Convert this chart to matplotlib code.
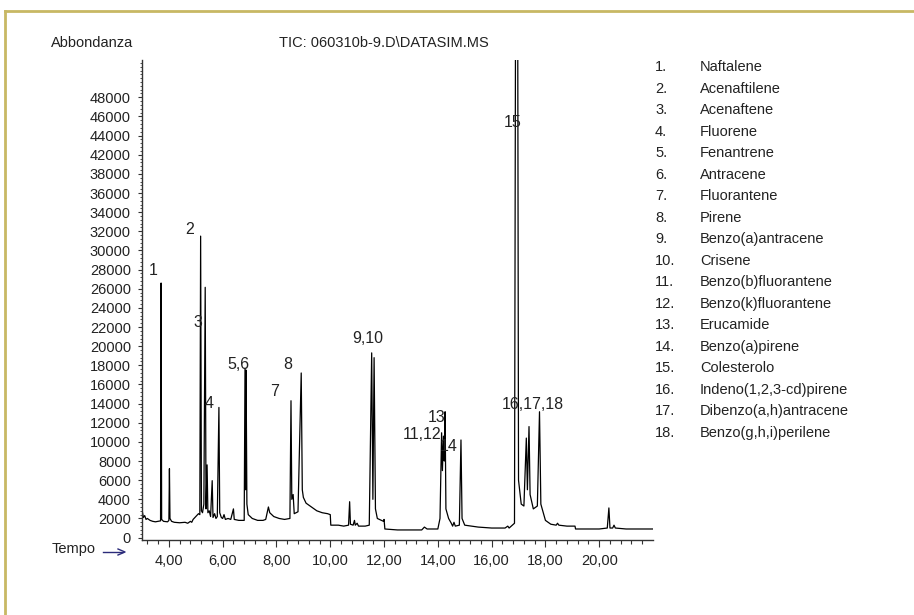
import numpy as np
import matplotlib
matplotlib.use("Agg")
import matplotlib.pyplot as plt
from matplotlib.lines import Line2D
from matplotlib.ticker import MultipleLocator, FixedLocator

plt.rcParams['font.family'] = ['Liberation Sans', 'DejaVu Sans']

# chromatogram trace, vertices (time in min, abundance)
tempo = [3.02, 3.05, 3.10, 3.15, 3.20, 3.30, 3.40, 3.50, 3.60, 3.69, 3.71, 3.73, 3.80, 3.95,
         4.00, 4.02, 4.04, 4.10, 4.20, 4.40, 4.60, 4.70, 4.80, 4.85, 4.90, 5.00, 5.10, 5.15,
         5.18, 5.21, 5.25, 5.30, 5.35, 5.38, 5.42, 5.45, 5.50, 5.55, 5.61, 5.64, 5.70, 5.75,
         5.80, 5.86, 5.89, 5.95, 6.00, 6.05, 6.10, 6.20, 6.30, 6.40, 6.43, 6.60, 6.80, 6.83,
         6.855, 6.87, 6.90, 6.95, 7.10, 7.30, 7.50, 7.60, 7.70, 7.75, 7.90, 8.10, 8.30, 8.50,
         8.54, 8.57, 8.62, 8.66, 8.80, 8.92, 8.96, 9.00, 9.10, 9.30, 9.50, 9.70, 9.90, 10.00,
         10.02, 10.30, 10.50, 10.68, 10.72, 10.75, 10.85, 10.90, 10.93, 11.00, 11.05, 11.30,
         11.45, 11.54, 11.585, 11.63, 11.68, 11.75, 11.90, 11.98, 12.00, 12.03, 12.50, 13.00,
         13.40, 13.50, 13.60, 14.00, 14.08, 14.14, 14.17, 14.21, 14.24, 14.27, 14.30, 14.40,
         14.50, 14.55, 14.60, 14.65, 14.80, 14.86, 14.90, 15.00, 15.50, 16.00, 16.50, 16.60,
         16.65, 16.85, 16.90, 16.96, 17.00, 17.10, 17.20, 17.29, 17.33, 17.39, 17.43, 17.55,
         17.70, 17.78, 17.83, 18.00, 18.20, 18.40, 18.45, 18.50, 18.80, 19.10, 19.12, 19.50,
         20.00, 20.30, 20.36, 20.40, 20.50, 20.55, 20.60, 21.00, 21.50, 22.00]
abbondanza = [2600, 2100, 2300, 1900, 2000, 1800, 1700, 1650, 1700, 1750, 26600, 1900, 1700, 1650,
              1800, 7200, 2000, 1700, 1600, 1550, 1600, 1500, 1700, 1600, 1900, 2200, 2500, 2400,
              31500, 2800, 2600, 3500, 26150, 3000, 7600, 2600, 2800, 2200, 5950, 2100, 2500, 2000,
              2200, 13600, 2600, 2100, 2000, 2400, 1900, 2000, 1900, 3000, 1900, 1800, 1800, 17700,
              5000, 17500, 3500, 2400, 2000, 1800, 1800, 1900, 3200, 2600, 2200, 2000, 1900, 2000,
              14300, 4000, 4500, 2500, 2700, 17200, 5000, 4200, 3600, 3200, 2800, 2600, 2500, 2400,
              1300, 1300, 1200, 1300, 3750, 1400, 1300, 1800, 1300, 1500, 1200, 1200,
              1300, 19300, 4000, 18800, 3000, 2000, 1800, 1700, 1900, 900, 800, 800,
              800, 1100, 900, 900, 2000, 10950, 7000, 10600, 8000, 13150, 3000, 2000,
              1500, 1200, 1600, 1200, 1300, 10200, 2000, 1300, 1100, 1000, 1000, 1200,
              1000, 1500, 70000, 70000, 6000, 3500, 3300, 10400, 5000, 11600, 4500, 3000,
              3300, 13150, 3500, 1800, 1400, 1300, 1500, 1300, 1200, 1200, 900, 900,
              900, 1000, 3100, 1000, 1000, 1300, 1000, 900, 900, 900]

# peak labels and where they sit
peak_labels = ["1", "2", "3", "4", "5,6", "7", "8", "9,10", "11,12", "13", "14", "15", "16,17,18"]
label_t = [3.40, 4.78, 5.08, 5.49, 6.60, 7.94, 8.42, 11.40, 13.41, 13.96, 14.41, 16.79, 17.53]
label_y = [27870, 32240, 22430, 13980, 18050, 15230, 18050, 20760, 10750, 12520, 9500, 43400, 13870]

# y tick labels as printed (40000 is missing on the original)
ytick_labels = ["0", "2000", "4000", "6000", "8000", "10000", "12000", "14000", "16000",
                "18000", "20000", "22000", "24000", "26000", "28000", "30000", "32000",
                "34000", "36000", "38000", "42000", "44000", "46000", "48000"]
xtick_values = [4, 6, 8, 10, 12, 14, 16, 18, 20]

compounds = ["Naftalene", "Acenaftilene", "Acenaftene", "Fluorene", "Fenantrene", "Antracene",
             "Fluorantene", "Pirene", "Benzo(a)antracene", "Crisene", "Benzo(b)fluorantene",
             "Benzo(k)fluorantene", "Erucamide", "Benzo(a)pirene", "Colesterolo",
             "Indeno(1,2,3-cd)pirene", "Dibenzo(a,h)antracene", "Benzo(g,h,i)perilene"]

W, H = 914, 615
fig = plt.figure(figsize=(W / 100, H / 100), dpi=100)
ax = fig.add_axes([142 / W, 1 - 540 / H, (653 - 142) / W, (540 - 60) / H])

ax.plot(tempo, abbondanza, color="black", lw=0.9, clip_on=True)
ax.set_xlim(3.0, 22.0)
ax.set_ylim(-250, 49900)

for s in ["top", "right"]:
    ax.spines[s].set_visible(False)
for s in ["left", "bottom"]:
    ax.spines[s].set_color("#333333")
    ax.spines[s].set_linewidth(1.0)

txt = "#222222"
fs = 10.5
ax.set_yticks(np.arange(len(ytick_labels)) * 2000)
ax.set_yticklabels(ytick_labels, fontsize=fs, color=txt)
ax.yaxis.set_minor_locator(MultipleLocator(400))
ax.tick_params(axis="y", which="major", length=3, width=0.8, pad=5, colors="#333333")
ax.tick_params(axis="y", which="minor", length=1.5, width=0.6, colors="#333333")

ax.set_xticks(xtick_values)
ax.set_xticklabels(["%d,00" % v for v in xtick_values], fontsize=fs, color=txt)
ax.xaxis.set_minor_locator(FixedLocator(np.arange(3.2, 22.0, 0.4)))
ax.tick_params(axis="x", which="major", length=5, width=0.8, pad=5, colors="#333333")
ax.tick_params(axis="x", which="minor", length=3, width=0.8, colors="#333333")
for lab in ax.get_xticklabels() + ax.get_yticklabels():
    lab.set_color(txt)

for lab, t, y in zip(peak_labels, label_t, label_y):
    ax.text(t, y, lab, fontsize=fs + 1, color=txt, ha="center", va="center")

# headers
fig.text(92 / W, 1 - 43 / H, "Abbondanza", fontsize=fs, color=txt, ha="center", va="center")
fig.text(279 / W, 1 - 43 / H, "TIC: 060310b-9.D\\DATASIM.MS", fontsize=fs, color=txt,
         ha="left", va="center")
fig.text(52 / W, 1 - 549 / H, "Tempo", fontsize=fs, color=txt, ha="left", va="center")
fig.add_artist(Line2D([103 / W, 122 / W], [1 - 552 / H, 1 - 552 / H], color="#2b2b7a", lw=1.0))
fig.add_artist(Line2D([118 / W, 125 / W, 118 / W], [1 - 549 / H, 1 - 552 / H, 1 - 555 / H],
                      color="#2b2b7a", lw=1.0))

# compound list
for i, name in enumerate(compounds):
    y = 1 - (67 + i * 21.53) / H
    fig.text(655 / W, y, "%d." % (i + 1), fontsize=fs, color=txt, ha="left", va="center")
    fig.text(700 / W, y, name, fontsize=fs, color=txt, ha="left", va="center")

# frame lines
gold = "#c8b864"
fig.add_artist(Line2D([5 / W, 913 / W], [1 - 11 / H, 1 - 11 / H], color=gold, lw=2))
fig.add_artist(Line2D([5 / W, 5 / W], [1 - 11 / H, 0], color=gold, lw=2))

fig.savefig("out.png", dpi=100)
